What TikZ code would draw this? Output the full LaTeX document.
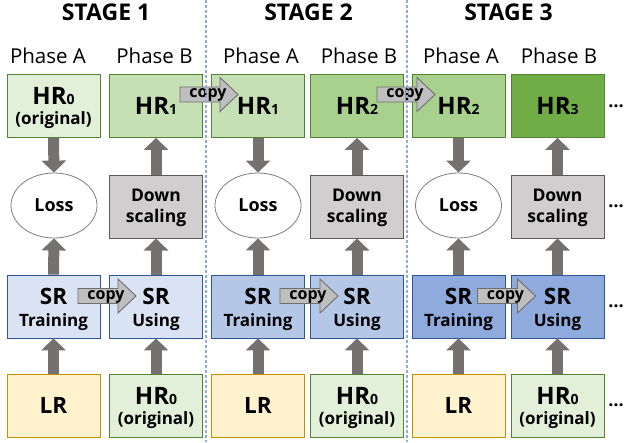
\documentclass[tikz,border=0pt]{standalone}
\usepackage{fontspec}
\setmainfont{Open Sans}
\usetikzlibrary{arrows.meta,calc,shapes.geometric}
\definecolor{grnline}{HTML}{548235}
\definecolor{hrzero}{HTML}{E2F0D9}
\definecolor{hrone}{HTML}{C5E0B4}
\definecolor{hrtwo}{HTML}{A9D18E}
\definecolor{hrthree}{HTML}{70AD47}
\definecolor{blueline}{HTML}{2F5597}
\definecolor{srone}{HTML}{DAE3F3}
\definecolor{srtwo}{HTML}{B4C7E7}
\definecolor{srthree}{HTML}{8FAADC}
\definecolor{lrfill}{HTML}{FFF2CC}
\definecolor{lrline}{HTML}{BF9000}
\definecolor{dsfill}{HTML}{D0CECE}
\definecolor{dsline}{HTML}{595959}
\definecolor{lossline}{HTML}{7F7F7F}
\definecolor{garr}{HTML}{767171}
\definecolor{cpfill}{HTML}{BFBFBF}
\definecolor{cpline}{HTML}{6E6E6E}
\definecolor{sepblue}{HTML}{8FAADC}
\newcommand{\HRlab}[1]{{\fontsize{24}{24}\selectfont\bfseries HR{\fontsize{14}{14}\selectfont #1}}}
\newcommand{\CopyArrow}[1]{%
  \draw[cparrow] ($(#1)+(-29,-7.5)$) -- ($(#1)+(11,-7.5)$) -- ($(#1)+(11,-17)$) -- ($(#1)+(29,0)$)
    -- ($(#1)+(11,17)$) -- ($(#1)+(11,7.5)$) -- ($(#1)+(-29,7.5)$) -- cycle;
  \node[cptext] (#1t) at ($(#1)+(-1,3)$) {copy};}
\begin{document}
\begin{tikzpicture}[x=1pt,y=-1pt,
  box/.style={rectangle, minimum width=93pt, minimum height=63pt, inner sep=0pt,
    line width=0.8pt, align=center, text=black},
  hrbox/.style={box, draw=grnline, fill=#1, font=\fontsize{24}{24}\selectfont\bfseries},
  hrorig/.style={box, draw=grnline, fill=hrzero, font=\fontsize{17}{20}\selectfont\bfseries, text height=42pt},
  srbox/.style={box, draw=blueline, fill=#1, font=\fontsize{17}{22}\selectfont\bfseries, text height=45pt},
  lrbox/.style={box, draw=lrline, fill=lrfill, font=\fontsize{22.5}{22.5}\selectfont\bfseries},
  dsbox/.style={box, draw=dsline, fill=dsfill, line width=1pt, font=\fontsize{17.5}{21}\selectfont\bfseries, text height=37pt},
  lossnode/.style={ellipse, draw=lossline, fill=white, line width=0.8pt, minimum width=86pt, minimum height=65pt, inner sep=0pt, font=\fontsize{18}{18}\selectfont\bfseries},
  garrow/.style={draw=garr, fill=garr, line width=11pt, line cap=butt, -{Triangle[length=12pt,width=24pt]}},
  cparrow/.style={fill=cpfill, draw=cpline, line width=0.9pt, line join=miter},
  cptext/.style={anchor=base, inner sep=0pt, font=\fontsize{16}{16}\selectfont\bfseries},
  sepline/.style={draw=sepblue, line width=1.1pt, dash pattern=on 3pt off 2pt},
  stagetitle/.style={anchor=base, inner sep=0pt, font=\fontsize{23}{23}\selectfont\bfseries},
  phaselabel/.style={anchor=base, inner sep=0pt, font=\fontsize{20.5}{20.5}\selectfont},
  dotsnode/.style={inner sep=0pt, font=\fontsize{18}{18}\selectfont\bfseries}
]
\useasboundingbox (0,0) rectangle (626,442);
\fill[white] (0,0) rectangle (626,442);

% titles
\node[stagetitle] (st1) at (106,20) {STAGE 1};
\node[stagetitle] (st2) at (308.5,20) {STAGE 2};
\node[stagetitle] (st3) at (508.5,20) {STAGE 3};
\node[phaselabel] (p1a) at (48,63) {Phase A};
\node[phaselabel] (p1b) at (154.5,63) {Phase B};
\node[phaselabel] (p2a) at (261,63) {Phase A};
\node[phaselabel] (p2b) at (359,63) {Phase B};
\node[phaselabel] (p3a) at (461,63) {Phase A};
\node[phaselabel] (p3b) at (559,63) {Phase B};

% stage 1
\node[hrorig] (hrA1) at (53.5,106) {\HRlab{0}\\(original)};
\node[hrbox=hrone] (hrB1) at (156,106) {\HRlab{1}};
\node[lossnode] (loss1) at (54,205.5) {Loss};
\node[dsbox] (ds1) at (156,206.5) {Down\\scaling};
\node[srbox=srone] (srA1) at (53.5,306.5) {{\fontsize{22.5}{22.5}\selectfont SR}\\Training};
\node[srbox=srone] (srB1) at (156,306.5) {{\fontsize{22.5}{22.5}\selectfont SR}\\Using};
\node[lrbox] (lr1) at (53.5,405.5) {LR};
\node[hrorig] (hz1) at (156,405.5) {\HRlab{0}\\(original)};

% stage 2
\node[hrbox=hrone] (hrA2) at (258,106) {\HRlab{1}};
\node[hrbox=hrtwo] (hrB2) at (357,106) {\HRlab{2}};
\node[lossnode] (loss2) at (258,205.5) {Loss};
\node[dsbox] (ds2) at (357,206.5) {Down\\scaling};
\node[srbox=srtwo] (srA2) at (258,306.5) {{\fontsize{22.5}{22.5}\selectfont SR}\\Training};
\node[srbox=srtwo] (srB2) at (357,306.5) {{\fontsize{22.5}{22.5}\selectfont SR}\\Using};
\node[lrbox] (lr2) at (258,405.5) {LR};
\node[hrorig] (hz2) at (357,405.5) {\HRlab{0}\\(original)};

% stage 3
\node[hrbox=hrtwo] (hrA3) at (458.5,106) {\HRlab{2}};
\node[hrbox=hrthree] (hrB3) at (557.5,106) {\HRlab{3}};
\node[lossnode] (loss3) at (458.5,205.5) {Loss};
\node[dsbox] (ds3) at (557.5,206.5) {Down\\scaling};
\node[srbox=srthree] (srA3) at (458.5,306.5) {{\fontsize{22.5}{22.5}\selectfont SR}\\Training};
\node[srbox=srthree] (srB3) at (557.5,306.5) {{\fontsize{22.5}{22.5}\selectfont SR}\\Using};
\node[lrbox] (lr3) at (458.5,405.5) {LR};
\node[hrorig] (hz3) at (557.5,405.5) {\HRlab{0}\\(original)};

% dots
\node[dotsnode] (d1) at (616,106) {…};
\node[dotsnode] (d2) at (616,206.5) {…};
\node[dotsnode] (d3) at (616,306.5) {…};
\node[dotsnode] (d4) at (616,405.5) {…};

% gray arrows
\foreach \s in {1,2,3}{
  \draw[garrow] (hrA\s.south) -- (loss\s.north);
  \draw[garrow] (srA\s.north) -- (loss\s.south);
  \draw[garrow] (lr\s.north) -- (srA\s.south);
  \draw[garrow] (hz\s.north) -- (srB\s.south);
  \draw[garrow] (srB\s.north) -- (ds\s.south);
  \draw[garrow] (ds\s.north) -- (hrB\s.south);
}

% copy arrows
\coordinate (cpa) at (107,296);
\coordinate (cpb) at (209,94.5);
\coordinate (cpc) at (309,296);
\coordinate (cpd) at (406,94.5);
\coordinate (cpe) at (506.5,296);
\CopyArrow{cpa}
\CopyArrow{cpb}
\CopyArrow{cpc}
\CopyArrow{cpd}
\CopyArrow{cpe}

% stage separators
\coordinate (s1top) at (206,0);
\coordinate (s1bot) at (206,442);
\coordinate (s2top) at (407,0);
\coordinate (s2bot) at (407,442);
\draw[sepline] (s1top) -- (s1bot);
\draw[sepline] (s2top) -- (s2bot);
\end{tikzpicture}
\end{document}
